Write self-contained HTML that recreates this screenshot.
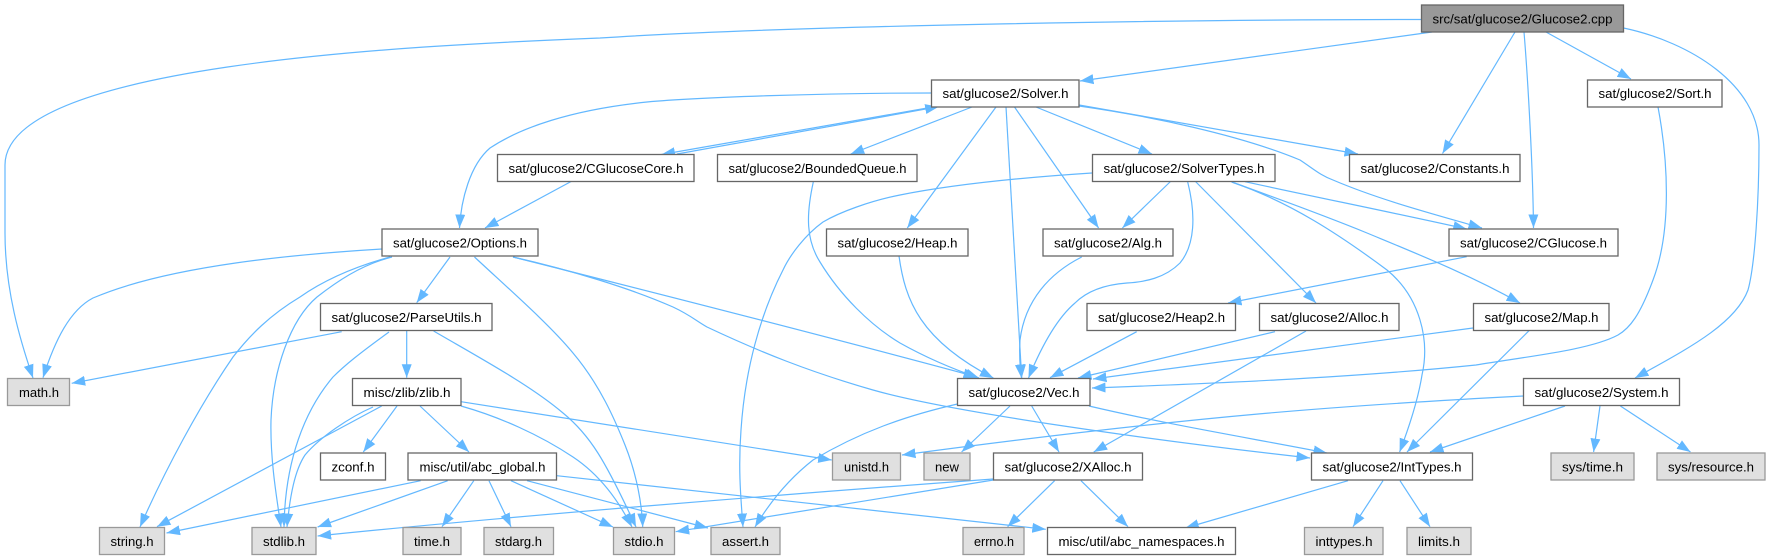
<!DOCTYPE html>
<html><head><meta charset="utf-8"><style>
html,body{margin:0;padding:0;background:#fff;width:1770px;height:560px;overflow:hidden}
svg{display:block}
.e path{fill:none;stroke:#63b8ff;stroke-width:1.2;marker-end:url(#a)}
.n rect{fill:#fff;stroke:#666;stroke-width:1.3}
.g rect{fill:#e0e0e0;stroke:#999;stroke-width:1.3}
.r rect{fill:#999;stroke:#666;stroke-width:1.3}
text{font-family:"Liberation Sans",Arial,sans-serif;font-size:13.33px;fill:#000}
</style></head><body>
<svg width="1770" height="560" viewBox="0 0 1770 560" xmlns="http://www.w3.org/2000/svg">
<defs><marker id="a" markerUnits="userSpaceOnUse" markerWidth="14" markerHeight="11" refX="13.5" refY="5.5" orient="auto"><path d="M0,0.5L13.5,5.5L0,10.5z" fill="#63b8ff"/></marker></defs>
<g class="e">
<path d="M1421,19.5C1200,19.5 800,25 600,38C400,46 5,65 5,165L5,233C5,290 20,340 33,378"/>
<path d="M1432,32L1080,81"/>
<path d="M1515,32L1442.5,153.5"/>
<path d="M1524,32C1528,80 1533,170 1533.5,228"/>
<path d="M1546,32L1631,79"/>
<path d="M1623.5,28C1690,42 1759,85 1759,145C1759,200 1755,265 1748,290C1735,325 1685,350 1635,378"/>
<path d="M1658,107C1668,160 1672,230 1653,280C1640,315 1630,328 1618,335C1590,350 1530,356 1476,365C1350,378 1200,384 1092,388"/>
<path d="M931,93C830,93 700,97 647,102C570,110 520,128 490,148C470,165 461,200 459.5,228"/>
<path d="M933,107L661.5,154.5"/>
<path d="M677,154L938.7,106.7"/>
<path d="M972,107L850.7,154"/>
<path d="M996,107L907.3,228"/>
<path d="M1006,107L1021.7,378"/>
<path d="M1014.5,107L1098.6,228"/>
<path d="M1036,107L1152,154"/>
<path d="M1079,105L1358,154"/>
<path d="M1079,106C1150,116 1240,135 1300,160C1315,170 1320,175 1333,180C1380,200 1430,213 1482,228"/>
<path d="M813.3,182C806,215 806,240 820,262C840,295 870,325 900,343C925,357 950,368 979,378"/>
<path d="M899,256C905,300 920,340 993.4,378"/>
<path d="M1081.7,257C1050,273 1025,300 1020,340C1019,355 1020,365 1021.5,378"/>
<path d="M1187.7,182C1196,215 1195,245 1180,263C1165,278 1145,282 1127,283C1100,285 1085,293 1075,303C1055,320 1040,350 1028.5,378"/>
<path d="M1092,173C1030,177 960,183 900,195C870,201 840,212 823,222C805,235 790,255 783,270C760,315 745,370 741,430C738,470 741,500 743,527"/>
<path d="M1171,181L1122.4,228"/>
<path d="M1245,181.7C1320,198 1400,214 1466.7,229"/>
<path d="M1195,181L1316,303"/>
<path d="M1231.7,182C1290,202 1340,235 1387,270C1420,297 1430,340 1422,375C1418,400 1408,430 1399.6,452"/>
<path d="M1231.7,182C1290,203 1340,222 1367,233C1420,255 1470,275 1520,303"/>
<path d="M1529,330.7L1407,452"/>
<path d="M1473,328L1093,379"/>
<path d="M1275,331.7L1078,378"/>
<path d="M1306,331L1093.7,452"/>
<path d="M1136.7,331.7L1050,377.7"/>
<path d="M1466.7,256.7L1228,303"/>
<path d="M572,181L485,228"/>
<path d="M382,249C300,254 170,265 93,298C70,310 55,340 43,377.7"/>
<path d="M390,257C350,268 320,283 300,297C270,315 250,335 233,357C200,405 165,470 140,527"/>
<path d="M392,257C360,265 335,283 317,297C290,320 273,370 271,420C270,460 277,500 281,527"/>
<path d="M450,257L416.7,302.7"/>
<path d="M474.5,257C510,290 550,325 573,353C600,385 615,420 625,445C637,475 642,505 642.7,527"/>
<path d="M513,257C640,289 840,340 977,377"/>
<path d="M513,257C570,270 630,288 673,307C690,315 695,320 707,327C760,352 810,372 873,390C950,412 1150,440 1310,458"/>
<path d="M341.7,331.7L71.7,383.3"/>
<path d="M389,332C360,353 345,365 333,377C305,410 285,460 284,527"/>
<path d="M406.7,331L406.7,377.7"/>
<path d="M433.6,331C480,358 530,385 563,413C590,435 605,460 636,527"/>
<path d="M381.7,406L157,526.7"/>
<path d="M373,407C350,417 320,437 305,455C295,470 290,495 287,527"/>
<path d="M397,406L363.3,452"/>
<path d="M420,406L469,452"/>
<path d="M461,401.7L831.7,460"/>
<path d="M461,406C500,417 540,435 573,457C600,475 618,500 632,527"/>
<path d="M420.7,480.7L166.5,533"/>
<path d="M447.7,480.7L317.6,527"/>
<path d="M473.8,480.7L442,526.7"/>
<path d="M489,480.7L511,526.7"/>
<path d="M511,480.7L613,527"/>
<path d="M527,480.7L708,528"/>
<path d="M556.7,475.7L1045.8,529.3"/>
<path d="M993.4,479C800,493 500,517 317.6,536"/>
<path d="M993.4,480L675.7,531.7"/>
<path d="M1054.6,480.7L1007.6,526.7"/>
<path d="M1081,480.7L1128,526.7"/>
<path d="M957.5,404C905,416 860,432 813,460C790,478 770,502 755,527"/>
<path d="M1010,406L961.6,452"/>
<path d="M1031.7,406L1059,452"/>
<path d="M1089,406C1170,425 1250,438 1327,453"/>
<path d="M1523.6,396C1350,405 1200,415 902,455"/>
<path d="M1565,406L1430,452"/>
<path d="M1600,406L1593.6,452"/>
<path d="M1620.4,406L1690.5,452"/>
<path d="M1348,480.7L1185.3,528"/>
<path d="M1383,480.7L1353,526.7"/>
<path d="M1400,480.7L1430,526.7"/>
</g>
<g class="r"><rect x="1421.5" y="5" width="202" height="27"/><text x="1432.5" y="23.5" textLength="180" lengthAdjust="spacingAndGlyphs">src/sat/glucose2/Glucose2.cpp</text></g>
<g class="n"><rect x="931.5" y="80" width="147.5" height="27"/><text x="942.5" y="98" textLength="126" lengthAdjust="spacingAndGlyphs">sat/glucose2/Solver.h</text></g>
<g class="n"><rect x="1587.5" y="80" width="134.5" height="27"/><text x="1598.5" y="98" textLength="113" lengthAdjust="spacingAndGlyphs">sat/glucose2/Sort.h</text></g>
<g class="n"><rect x="497.5" y="154.5" width="196.5" height="27"/><text x="508.5" y="173" textLength="175" lengthAdjust="spacingAndGlyphs">sat/glucose2/CGlucoseCore.h</text></g>
<g class="n"><rect x="717.5" y="154.5" width="199.5" height="27"/><text x="728.5" y="173" textLength="178" lengthAdjust="spacingAndGlyphs">sat/glucose2/BoundedQueue.h</text></g>
<g class="n"><rect x="1092.5" y="154.5" width="182.5" height="27"/><text x="1103.5" y="173" textLength="161" lengthAdjust="spacingAndGlyphs">sat/glucose2/SolverTypes.h</text></g>
<g class="n"><rect x="1349.5" y="154.5" width="170.5" height="27"/><text x="1360.5" y="173" textLength="149" lengthAdjust="spacingAndGlyphs">sat/glucose2/Constants.h</text></g>
<g class="n"><rect x="382" y="229" width="156" height="27"/><text x="393" y="247.5" textLength="134" lengthAdjust="spacingAndGlyphs">sat/glucose2/Options.h</text></g>
<g class="n"><rect x="826.5" y="229" width="141.5" height="27"/><text x="837.5" y="247.5" textLength="120" lengthAdjust="spacingAndGlyphs">sat/glucose2/Heap.h</text></g>
<g class="n"><rect x="1043" y="229" width="130" height="27"/><text x="1054" y="247.5" textLength="108" lengthAdjust="spacingAndGlyphs">sat/glucose2/Alg.h</text></g>
<g class="n"><rect x="1449" y="229" width="169" height="27"/><text x="1460" y="247.5" textLength="147" lengthAdjust="spacingAndGlyphs">sat/glucose2/CGlucose.h</text></g>
<g class="n"><rect x="320.5" y="303.5" width="171.5" height="27"/><text x="331.5" y="322" textLength="150" lengthAdjust="spacingAndGlyphs">sat/glucose2/ParseUtils.h</text></g>
<g class="n"><rect x="1087" y="303.5" width="148.5" height="27"/><text x="1098" y="322" textLength="127" lengthAdjust="spacingAndGlyphs">sat/glucose2/Heap2.h</text></g>
<g class="n"><rect x="1259.5" y="303.5" width="139.5" height="27"/><text x="1270.5" y="322" textLength="118" lengthAdjust="spacingAndGlyphs">sat/glucose2/Alloc.h</text></g>
<g class="n"><rect x="1473.5" y="303.5" width="135.5" height="27"/><text x="1484.5" y="322" textLength="114" lengthAdjust="spacingAndGlyphs">sat/glucose2/Map.h</text></g>
<g class="g"><rect x="7.5" y="378.5" width="62" height="27"/><text x="19" y="397" textLength="40" lengthAdjust="spacingAndGlyphs">math.h</text></g>
<g class="n"><rect x="352.5" y="378.5" width="108.5" height="27"/><text x="363.5" y="397" textLength="87" lengthAdjust="spacingAndGlyphs">misc/zlib/zlib.h</text></g>
<g class="n"><rect x="957.5" y="378.5" width="132.5" height="27"/><text x="968.5" y="397" textLength="111" lengthAdjust="spacingAndGlyphs">sat/glucose2/Vec.h</text></g>
<g class="n"><rect x="1523.5" y="378.5" width="156" height="27"/><text x="1534.5" y="397" textLength="134" lengthAdjust="spacingAndGlyphs">sat/glucose2/System.h</text></g>
<g class="n"><rect x="320.5" y="453" width="65" height="27"/><text x="331.5" y="471.5" textLength="43" lengthAdjust="spacingAndGlyphs">zconf.h</text></g>
<g class="n"><rect x="408" y="453" width="148.5" height="27"/><text x="419.5" y="471.5" textLength="126" lengthAdjust="spacingAndGlyphs">misc/util/abc_global.h</text></g>
<g class="g"><rect x="832.5" y="453" width="68" height="27"/><text x="844" y="471.5" textLength="45" lengthAdjust="spacingAndGlyphs">unistd.h</text></g>
<g class="g"><rect x="924" y="453" width="46" height="27"/><text x="935" y="471.5" textLength="24" lengthAdjust="spacingAndGlyphs">new</text></g>
<g class="n"><rect x="993.5" y="453" width="149" height="27"/><text x="1004.5" y="471.5" textLength="127" lengthAdjust="spacingAndGlyphs">sat/glucose2/XAlloc.h</text></g>
<g class="n"><rect x="1311.5" y="453" width="161" height="27"/><text x="1322.5" y="471.5" textLength="139" lengthAdjust="spacingAndGlyphs">sat/glucose2/IntTypes.h</text></g>
<g class="g"><rect x="1551" y="453" width="83" height="27"/><text x="1562" y="471.5" textLength="61" lengthAdjust="spacingAndGlyphs">sys/time.h</text></g>
<g class="g"><rect x="1657" y="453" width="108" height="27"/><text x="1668" y="471.5" textLength="86" lengthAdjust="spacingAndGlyphs">sys/resource.h</text></g>
<g class="g"><rect x="99.5" y="527.5" width="65" height="27"/><text x="110.5" y="546" textLength="43" lengthAdjust="spacingAndGlyphs">string.h</text></g>
<g class="g"><rect x="252" y="527.5" width="64" height="27"/><text x="263" y="546" textLength="42" lengthAdjust="spacingAndGlyphs">stdlib.h</text></g>
<g class="g"><rect x="403" y="527.5" width="58" height="27"/><text x="414" y="546" textLength="36" lengthAdjust="spacingAndGlyphs">time.h</text></g>
<g class="g"><rect x="484" y="527.5" width="69.5" height="27"/><text x="495" y="546" textLength="47" lengthAdjust="spacingAndGlyphs">stdarg.h</text></g>
<g class="g"><rect x="613.5" y="527.5" width="61" height="27"/><text x="624.5" y="546" textLength="39" lengthAdjust="spacingAndGlyphs">stdio.h</text></g>
<g class="g"><rect x="711" y="527.5" width="69" height="27"/><text x="722" y="546" textLength="47" lengthAdjust="spacingAndGlyphs">assert.h</text></g>
<g class="g"><rect x="963" y="527.5" width="61" height="27"/><text x="974" y="546" textLength="40" lengthAdjust="spacingAndGlyphs">errno.h</text></g>
<g class="n"><rect x="1047.5" y="527.5" width="188" height="27"/><text x="1058.5" y="546" textLength="166" lengthAdjust="spacingAndGlyphs">misc/util/abc_namespaces.h</text></g>
<g class="g"><rect x="1304.5" y="527.5" width="78.5" height="27"/><text x="1315.5" y="546" textLength="57" lengthAdjust="spacingAndGlyphs">inttypes.h</text></g>
<g class="g"><rect x="1407" y="527.5" width="64" height="27"/><text x="1418" y="546" textLength="42" lengthAdjust="spacingAndGlyphs">limits.h</text></g>
</svg>
</body></html>
